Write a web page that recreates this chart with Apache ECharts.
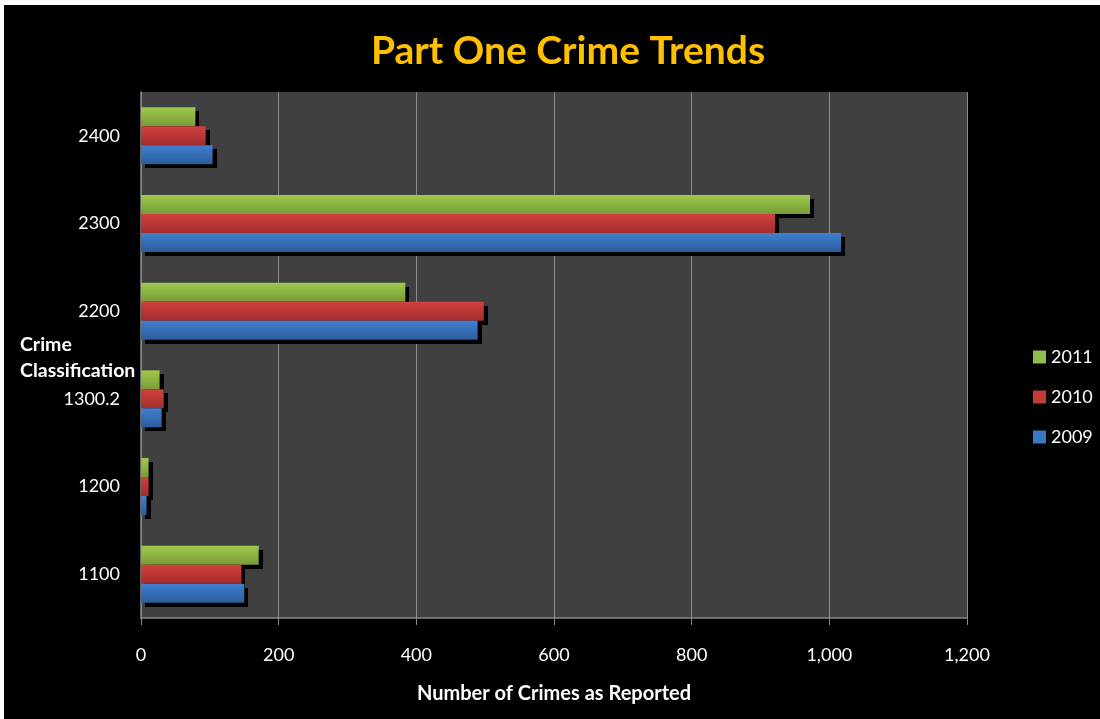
<!DOCTYPE html>
<html><head><meta charset="utf-8">
<script src="https://cdn.jsdelivr.net/npm/echarts@6/dist/echarts.min.js"></script>
<style>html,body{margin:0;padding:0;background:#fff;}#c{width:1100px;height:719px;}</style>
</head><body><div id="c"></div>
<script>
const categories = ['1100', '1200', '1300.2', '2200', '2300', '2400'];
const years = ['2009', '2010', '2011'];
const values2009 = [150, 8, 30, 489, 1017, 104];
const values2010 = [146, 11, 33, 498, 921, 94];
const values2011 = [171, 11, 27, 384, 972, 79];
const xTicks = [0, 200, 400, 600, 800, 1000, 1200];

const FONT = 'Lato, "Open Sans", sans-serif';
const grads = {
  '2009': ['#3f80cf', '#2c5c9c', '#3a78c4'],
  '2010': ['#d2413f', '#a22d2c', '#c33a38'],
  '2011': ['#9fca4c', '#789c38', '#93bb47']
};
function mk(name, data, z) {
  const g = grads[name];
  return {
    name: name, type: 'bar', data: data, z: z,
    barGap: '0%', barCategoryGap: '35%',
    itemStyle: {
      color: new echarts.graphic.LinearGradient(0, 0, 0, 1, [{offset: 0, color: g[0]}, {offset: 1, color: g[1]}]),
      shadowColor: 'rgba(0,0,0,1)', shadowBlur: 0.5, shadowOffsetX: 4, shadowOffsetY: 4
    },
    emphasis: {disabled: true}
  };
}
const chart = echarts.init(document.getElementById('c'));
chart.setOption({
  backgroundColor: '#000',
  animation: false,
  title: {
    text: 'Part One Crime Trends', left: 563, top: 27, textAlign: 'center',
    textStyle: {color: '#ffc000', fontFamily: FONT, fontWeight: 'bold', fontSize: 39}
  },
  legend: {
    orient: 'vertical', left: 1028, top: 343, itemGap: 22, itemWidth: 13, itemHeight: 13,
    textStyle: {color: '#fff', fontFamily: FONT, fontSize: 18},
    data: [
      {name: '2011', icon: 'rect', itemStyle: {color: grads['2011'][2], shadowBlur: 0, shadowOffsetX: 0, shadowOffsetY: 0}},
      {name: '2010', icon: 'rect', itemStyle: {color: grads['2010'][2], shadowBlur: 0, shadowOffsetX: 0, shadowOffsetY: 0}},
      {name: '2009', icon: 'rect', itemStyle: {color: grads['2009'][2], shadowBlur: 0, shadowOffsetX: 0, shadowOffsetY: 0}}
    ]
  },
  grid: {left: 141, right: 133, top: 92, bottom: 101, show: true, backgroundColor: '#404040', borderWidth: 0},
  xAxis: {
    type: 'value', min: xTicks[0], max: xTicks[xTicks.length - 1], interval: 200,
    name: 'Number of Crimes as Reported', nameLocation: 'middle', nameGap: 66,
    nameTextStyle: {color: '#fff', fontFamily: FONT, fontWeight: 'bold', fontSize: 20},
    axisLine: {show: true, lineStyle: {color: '#888', width: 1.5}},
    axisTick: {show: true, length: 7, lineStyle: {color: '#888'}},
    axisLabel: {color: '#fff', fontFamily: FONT, fontSize: 18, margin: 28,
      formatter: v => v.toLocaleString('en-US')},
    splitLine: {show: true, lineStyle: {color: '#8a8a8a', width: 1}}
  },
  yAxis: {
    type: 'category', data: categories,
    axisLine: {show: true, lineStyle: {color: '#888', width: 1.5}},
    axisTick: {show: false},
    axisLabel: {color: '#fff', fontFamily: FONT, fontSize: 18, margin: 21},
    splitLine: {show: false}
  },
  graphic: [
    {type: 'text', left: 20, top: 335, style: {text: 'Crime', fill: '#fff', font: 'bold 19.5px ' + FONT}},
    {type: 'text', left: 20, top: 361, style: {text: 'Classification', fill: '#fff', font: 'bold 19.5px ' + FONT}},
    {type: 'rect', shape: {x: 0, y: 0, width: 1100, height: 5}, style: {fill: '#fff'}},
    {type: 'rect', shape: {x: 0, y: 0, width: 4, height: 719}, style: {fill: '#fff'}}
  ],
  series: [
    mk('2011', values2011, 2),
    mk('2010', values2010, 3),
    mk('2009', values2009, 4)
  ]
});
</script></body></html>
